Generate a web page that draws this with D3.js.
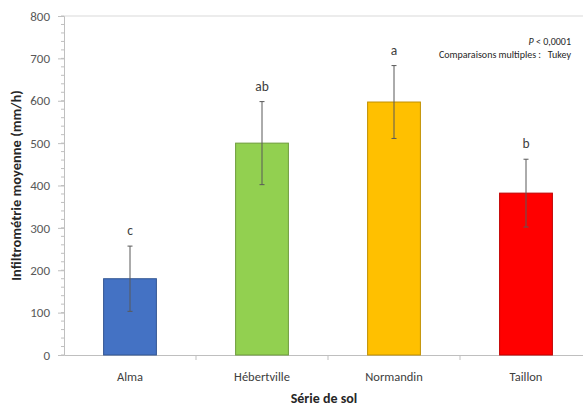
<!DOCTYPE html>
<html>
<head>
<meta charset="utf-8">
<script src="https://cdn.jsdelivr.net/npm/d3@7"></script>
<style>
  body { margin: 0; background: #fff; }
  text { font-family: Calibri, Carlito, "Open Sans", sans-serif; }
</style>
</head>
<body>
<div id="chart"></div>
<script>
const width = 583;
const height = 406;

// Data
const soils = ['Alma', 'Hébertville', 'Normandin', 'Taillon'];
const means = [180, 500, 597, 382];
const errors = [77, 98, 86, 80];
const letters = ['c', 'ab', 'a', 'b'];
const colors = ['#4472C4', '#92D050', '#FFC000', '#FF0000'];
const yTicks = [0, 100, 200, 300, 400, 500, 600, 700, 800];

const margin = { left: 64, top: 16, bottom: 51 };

const svg = d3
  .select('#chart')
  .append('svg')
  .attr('width', width)
  .attr('height', height);

const x = d3
  .scaleBand()
  .domain(soils)
  .range([margin.left, 592])
  .paddingInner(0.6)
  .paddingOuter(0.3);

const y = d3
  .scaleLinear()
  .domain([0, 800])
  .range([height - margin.bottom, margin.top]);

// top border line
svg
  .append('line')
  .attr('x1', margin.left)
  .attr('x2', width)
  .attr('y1', y(800))
  .attr('y2', y(800))
  .attr('stroke', '#d9d9d9')
  .attr('stroke-width', 1.2);

// minor ticks on y axis
svg
  .append('g')
  .selectAll('line')
  .data(d3.range(0, 801, 20))
  .join('line')
  .attr('x1', margin.left - 3)
  .attr('x2', margin.left)
  .attr('y1', (d) => y(d))
  .attr('y2', (d) => y(d))
  .attr('stroke', '#bfbfbf');

// y axis
const yAxis = svg
  .append('g')
  .attr('transform', `translate(${margin.left},0)`)
  .call(d3.axisLeft(y).tickValues(yTicks).tickSize(6).tickPadding(8));

yAxis.select('.domain').attr('stroke', '#bfbfbf');
yAxis.selectAll('.tick line').attr('stroke', '#bfbfbf');
yAxis
  .selectAll('.tick text')
  .attr('fill', '#595959')
  .style('font-size', '13px');

// x axis
const xAxis = svg
  .append('g')
  .attr('transform', `translate(0,${y(0)})`)
  .call(d3.axisBottom(x).tickSize(0).tickPadding(17));

xAxis.select('.domain').attr('stroke', '#bfbfbf');
xAxis
  .selectAll('.tick text')
  .attr('fill', '#404040')
  .style('font-size', '12.5px');

// category separators
svg
  .append('g')
  .selectAll('line')
  .data(soils.slice(1))
  .join('line')
  .attr('x1', (d) => x(d) - (x.step() - x.bandwidth()) / 2)
  .attr('x2', (d) => x(d) - (x.step() - x.bandwidth()) / 2)
  .attr('y1', y(0))
  .attr('y2', y(0) + 5)
  .attr('stroke', '#bfbfbf');

// bars
svg
  .append('g')
  .selectAll('rect')
  .data(soils)
  .join('rect')
  .attr('x', (d) => x(d))
  .attr('width', x.bandwidth())
  .attr('y', (d, i) => y(means[i]))
  .attr('height', (d, i) => y(0) - y(means[i]))
  .attr('fill', (d, i) => colors[i])
  .attr('stroke', (d, i) => d3.color(colors[i]).darker(0.8))
  .attr('stroke-width', 1);

// error bars
const err = svg.append('g').attr('stroke', '#595959').attr('stroke-width', 1);
soils.forEach((s, i) => {
  const cx = x(s) + x.bandwidth() / 2;
  err
    .append('line')
    .attr('x1', cx)
    .attr('x2', cx)
    .attr('y1', y(means[i] - errors[i]))
    .attr('y2', y(means[i] + errors[i]));
  [means[i] - errors[i], means[i] + errors[i]].forEach((v) => {
    err
      .append('line')
      .attr('x1', cx - 2.5)
      .attr('x2', cx + 2.5)
      .attr('y1', y(v))
      .attr('y2', y(v));
  });
});

// letters
svg
  .append('g')
  .selectAll('text')
  .data(soils)
  .join('text')
  .attr('x', (d) => x(d) + x.bandwidth() / 2)
  .attr('y', (d, i) => y(means[i] + errors[i]) - 11)
  .attr('text-anchor', 'middle')
  .attr('fill', '#404040')
  .style('font-size', '13.5px')
  .text((d, i) => letters[i]);

// annotations
svg
  .append('text')
  .attr('x', 571)
  .attr('y', 45)
  .attr('text-anchor', 'end')
  .attr('fill', '#262626')
  .style('font-size', '10px')
  .html('<tspan font-style="italic">P</tspan> &lt; 0,0001');

svg
  .append('text')
  .attr('x', 571)
  .attr('y', 58)
  .attr('text-anchor', 'end')
  .attr('fill', '#262626')
  .style('font-size', '10px')
  .attr('xml:space', 'preserve')
  .text('Comparaisons multiples :   Tukey');

// axis titles
svg
  .append('text')
  .attr('x', 324)
  .attr('y', 403)
  .attr('text-anchor', 'middle')
  .attr('fill', '#262626')
  .style('font-size', '14px')
  .style('font-weight', 'bold')
  .text('Série de sol');

svg
  .append('text')
  .attr('transform', `translate(21,${y(400)}) rotate(-90)`)
  .attr('text-anchor', 'middle')
  .attr('fill', '#262626')
  .style('font-size', '14.5px')
  .style('font-weight', 'bold')
  .text('Infiltrométrie moyenne (mm/h)');
</script>
</body>
</html>
